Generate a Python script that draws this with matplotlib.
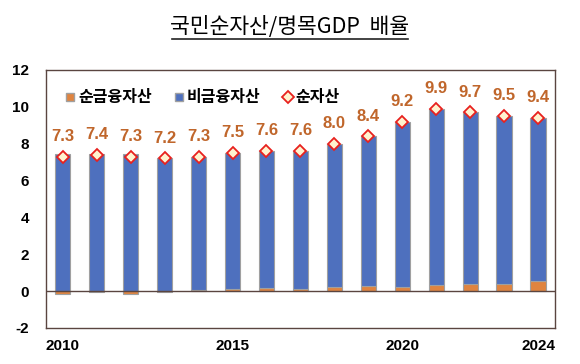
import numpy as np
import matplotlib
matplotlib.use("Agg")
import matplotlib.pyplot as plt
from matplotlib.lines import Line2D

plt.rcParams['font.family'] = ['Noto Sans CJK KR', 'DejaVu Sans']
plt.rcParams['axes.unicode_minus'] = False

# data
years = [2010, 2011, 2012, 2013, 2014, 2015, 2016, 2017, 2018, 2019, 2020, 2021, 2022, 2023, 2024]
netAssets = [7.3, 7.4, 7.3, 7.2, 7.3, 7.5, 7.6, 7.6, 8.0, 8.4, 9.2, 9.9, 9.7, 9.5, 9.4]
netFinancial = [-0.15, -0.03, -0.15, -0.03, 0.05, 0.09, 0.15, 0.09, 0.2, 0.27, 0.22, 0.31, 0.38, 0.38, 0.56]
tickYears = [2010, 2015, 2020, 2024]
seriesNames = ['순금융자산', '비금융자산', '순자산']

x = np.array(years)
fin = np.array(netFinancial)
tot = np.array(netAssets)
nonFin = tot - fin

blue = '#4E70BE'
orange = '#E0843F'
frameCol = '#5A4540'
numFont = ['Liberation Sans', 'DejaVu Sans']

fig = plt.figure(figsize=(5.8, 3.64), dpi=100)
ax = fig.add_axes([0.079, 0.099, 0.878, 0.709])

w = 0.45
ax.bar(x, fin, width=w, color=orange, edgecolor='#A0A0A0', linewidth=0.8, zorder=2)
posBase = np.where(fin > 0, fin, 0)
ax.bar(x, nonFin, width=w, bottom=posBase, color=blue, edgecolor='#A0A0A0', linewidth=0.8, zorder=2)
ax.plot(x, tot, linestyle='none', marker='D', markersize=6.5, markerfacecolor='#FFF3CF',
        markeredgecolor='#E8211E', markeredgewidth=1.3, zorder=4)

for xi, v in zip(x, tot):
    ax.annotate(f'{v:.1f}', (xi, v), xytext=(0, 9), textcoords='offset points',
                ha='center', va='bottom', fontsize=12, fontweight='bold', color='#C0662B',
                family=numFont)

ax.axhline(0, color=frameCol, linewidth=1.0, zorder=3)

ax.set_xlim(2009.5, 2024.5)
ax.set_ylim(-2, 12)
ax.set_yticks(range(-2, 13, 2))
ax.set_xticks(tickYears)
ax.tick_params(length=0, labelsize=11, pad=8)
for lab in ax.get_xticklabels() + ax.get_yticklabels():
    lab.set_fontweight('bold')
    lab.set_family(numFont)
ax.tick_params(axis='y', pad=12)
for s in ax.spines.values():
    s.set_color(frameCol)
    s.set_linewidth(1.0)

handles = [
    Line2D([], [], linestyle='none', marker='s', markersize=6, markerfacecolor=orange, markeredgecolor='#A0A0A0'),
    Line2D([], [], linestyle='none', marker='s', markersize=6, markerfacecolor=blue, markeredgecolor='#A0A0A0'),
    Line2D([], [], linestyle='none', marker='D', markersize=6, markerfacecolor='#FFF3CF',
           markeredgecolor='#E8211E', markeredgewidth=1.3),
]
ax.legend(handles, seriesNames, loc='upper left', ncol=3, frameon=False,
          handlelength=0.6, handletextpad=0.2, columnspacing=1.4,
          bbox_to_anchor=(0.01, 0.98), prop={'weight': 'bold', 'size': 11.5})

fig.text(0.5, 0.925, '국민순자산/명목GDP  배율', ha='center', va='center', fontsize=15.5, fontweight='medium')
fig.add_artist(Line2D([0.296, 0.704], [0.893, 0.893], color='#222222', linewidth=1.2))

fig.savefig('out.png', dpi=100)
